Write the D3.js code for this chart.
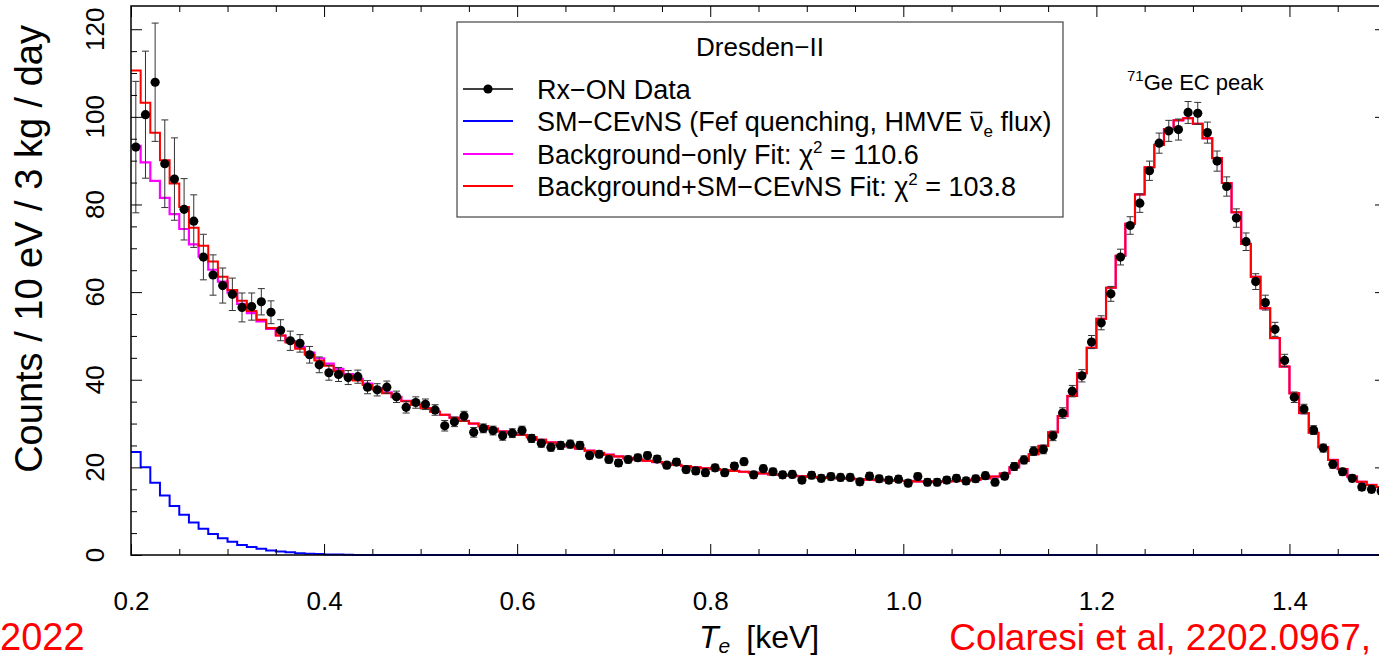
<!DOCTYPE html>
<html>
<head>
<meta charset="utf-8">
<script src="https://cdn.jsdelivr.net/npm/d3@7"></script>
<style>
body { margin: 0; background: #fff; }
svg { display: block; font-family: "Liberation Sans", Arial, Helvetica, sans-serif; }
</style>
</head>
<body>
<div id="graph"></div>
<script>
//histogram binning (10 eV bins from 0.2 keV)
var binStart = 0.2;
var binWidth = 0.01;

//Rx-ON data, counts / 10 eV / 3 kg / day
var dataCounts = [
    93.1, 100.5, 107.9, 89.3, 85.8, 78.9, 76.2, 68.0, 63.9, 61.5,
    59.5, 56.5, 56.7, 57.8, 55.4, 51.3, 48.9, 48.3, 45.7, 43.4,
    41.6, 41.2, 40.5, 40.7, 38.3, 37.7, 38.3, 36.1, 33.7, 34.8,
    34.4, 33.1, 29.5, 30.4, 31.7, 28.0, 28.9, 28.4, 27.2, 27.8,
    28.4, 26.6, 25.5, 24.6, 25.0, 25.3, 25.0, 22.7, 23.0, 21.8,
    21.0, 21.8, 22.2, 22.7, 21.9, 20.5, 21.2, 19.5, 19.2, 18.8,
    19.9, 18.8, 20.3, 21.3, 18.3, 19.7, 19.0, 18.3, 18.4, 17.1,
    18.2, 17.5, 17.9, 17.7, 17.7, 16.7, 18.0, 17.4, 17.1, 17.3,
    16.4, 17.9, 16.6, 16.6, 17.1, 17.5, 16.9, 17.4, 18.1, 16.6,
    18.0, 20.2, 21.7, 23.7, 24.1, 27.2, 32.4, 37.4, 40.9, 48.6,
    53.0, 59.6, 68.0, 75.2, 80.3, 87.7, 94.0, 96.8, 97.1, 101.0,
    100.8, 96.4, 89.9, 84.1, 76.9, 71.5, 62.4, 57.6, 51.5, 44.4,
    36.0, 33.3, 28.5, 24.4, 20.7, 19.0, 17.5, 15.5, 15.0, 14.6
];
var dataErrors = [
    15.0, 14.5, 13.5, 10.0, 9.4, 7.0, 6.0, 5.2, 4.6, 4.0,
    3.7, 3.3, 3.1, 3.0, 2.6, 2.4, 2.2, 2.0, 1.9, 1.8,
    1.7, 1.6, 1.6, 1.5, 1.5, 1.4, 1.4, 1.3, 1.3, 1.3,
    1.2, 1.2, 1.2, 1.1, 1.1, 1.1, 1.0, 1.0, 1.0, 1.0,
    1.0, 0.9, 0.9, 0.9, 0.9, 0.9, 0.9, 0.8, 0.8, 0.8,
    0.8, 0.8, 0.8, 0.8, 0.8, 0.8, 0.8, 0.8, 0.8, 0.8,
    0.8, 0.8, 0.8, 0.8, 0.8, 0.8, 0.8, 0.8, 0.8, 0.8,
    0.8, 0.8, 0.8, 0.8, 0.8, 0.8, 0.8, 0.8, 0.8, 0.8,
    0.8, 0.8, 0.8, 0.8, 0.8, 0.8, 0.8, 0.8, 0.8, 0.8,
    0.8, 0.9, 0.9, 1.0, 1.0, 1.1, 1.2, 1.3, 1.4, 1.5,
    1.6, 1.7, 1.8, 2.0, 2.1, 2.2, 2.3, 2.4, 2.4, 2.5,
    2.5, 2.4, 2.3, 2.2, 2.1, 2.0, 1.8, 1.7, 1.6, 1.4,
    1.2, 1.1, 1.0, 0.9, 0.9, 0.8, 0.8, 0.8, 0.8, 0.8
];

//Background+SM-CEvNS fit (red)
var fitBkgSM = [
    110.6, 103.2, 96.4, 90.1, 84.8, 79.4, 74.7, 70.6, 67.0, 63.5,
    60.5, 58.0, 55.7, 53.7, 51.8, 50.1, 48.5, 47.1, 45.7, 44.4,
    43.2, 42.0, 40.9, 39.8, 38.8, 37.8, 36.9, 36.0, 35.1, 34.3,
    33.5, 32.7, 32.0, 31.3, 30.6, 30.0, 29.4, 28.8, 28.2, 27.8,
    27.4, 26.9, 26.3, 25.7, 25.2, 24.8, 24.3, 23.8, 23.3, 22.9,
    22.5, 22.1, 21.8, 21.5, 21.2, 20.9, 20.6, 20.3, 20.0, 19.8,
    19.6, 19.4, 19.2, 19.0, 18.8, 18.6, 18.4, 18.3, 18.1, 18.0,
    17.8, 17.7, 17.6, 17.5, 17.4, 17.3, 17.2, 17.1, 17.0, 16.9,
    16.9, 16.8, 16.8, 16.8, 16.8, 16.9, 17.0, 17.2, 17.5, 17.9,
    18.6, 20.0, 21.5, 23.0, 24.9, 28.0, 31.7, 36.3, 41.5, 47.3,
    53.9, 61.0, 68.3, 75.6, 82.3, 88.5, 93.6, 97.2, 99.2, 99.7,
    98.4, 95.1, 90.6, 84.9, 78.2, 71.0, 63.5, 56.3, 49.5, 43.0,
    36.9, 32.4, 27.9, 24.6, 21.7, 19.6, 17.9, 16.7, 16.0, 15.5
];

//Background-only fit (magenta)
var fitBkgOnly = [
    93.4, 89.6, 85.4, 81.5, 77.8, 74.4, 70.9, 68.1, 65.1, 62.4,
    59.9, 57.3, 55.2, 53.3, 51.6, 50.1, 48.8, 47.5, 46.2, 44.9,
    43.7, 42.5, 41.3, 40.2, 39.1, 38.1, 37.1, 36.1, 35.2, 34.3,
    33.5, 32.7, 32.0, 31.3, 30.6, 30.0, 29.4, 28.8, 28.2, 27.8,
    27.4, 26.9, 26.3, 25.7, 25.2, 24.8, 24.3, 23.8, 23.3, 22.9,
    22.5, 22.1, 21.8, 21.5, 21.2, 20.9, 20.6, 20.3, 20.0, 19.8,
    19.6, 19.4, 19.2, 19.0, 18.8, 18.6, 18.4, 18.3, 18.1, 18.0,
    17.8, 17.7, 17.6, 17.5, 17.4, 17.3, 17.2, 17.1, 17.0, 16.9,
    16.9, 16.8, 16.8, 16.8, 16.8, 16.9, 17.0, 17.2, 17.5, 17.9,
    18.6, 20.0, 21.5, 23.0, 24.9, 28.0, 31.7, 36.3, 41.5, 47.3,
    53.9, 61.0, 68.3, 75.6, 82.3, 88.5, 93.6, 97.2, 99.2, 99.7,
    98.4, 95.1, 90.6, 84.9, 78.2, 71.0, 63.5, 56.3, 49.5, 43.0,
    36.9, 32.4, 27.9, 24.6, 21.7, 19.6, 17.9, 16.7, 16.0, 15.5
];

//SM-CEvNS prediction (blue)
var smCevns = [
    23.5, 20.0, 16.5, 13.6, 11.2, 9.2, 7.4, 6.0, 4.8, 3.8,
    3.0, 2.3, 1.8, 1.4, 1.0, 0.8, 0.6, 0.4, 0.3, 0.2,
    0.1, 0.1, 0.05, 0, 0, 0, 0, 0, 0, 0,
    0, 0, 0, 0, 0, 0, 0, 0, 0, 0,
    0, 0, 0, 0, 0, 0, 0, 0, 0, 0,
    0, 0, 0, 0, 0, 0, 0, 0, 0, 0,
    0, 0, 0, 0, 0, 0, 0, 0, 0, 0,
    0, 0, 0, 0, 0, 0, 0, 0, 0, 0,
    0, 0, 0, 0, 0, 0, 0, 0, 0, 0,
    0, 0, 0, 0, 0, 0, 0, 0, 0, 0,
    0, 0, 0, 0, 0, 0, 0, 0, 0, 0,
    0, 0, 0, 0, 0, 0, 0, 0, 0, 0,
    0, 0, 0, 0, 0, 0, 0, 0, 0, 0
];

//axis ticks
var xTicksMajor = [0.2, 0.4, 0.6, 0.8, 1.0, 1.2, 1.4];
var xTickLabels = ["0.2", "0.4", "0.6", "0.8", "1.0", "1.2", "1.4"];
var yTicksMajor = [0, 20, 40, 60, 80, 100, 120];
var yTickLabels = ["0", "20", "40", "60", "80", "100", "120"];

//measurements
var width = 1379;
var height = 658;
var plot = { left: 131, top: 6, right: 1386, bottom: 555 };

var x = d3.scaleLinear().domain([0.2, 1.5]).range([plot.left, plot.right]);
var y = d3.scaleLinear().domain([0, 125.3]).range([plot.bottom, plot.top]);

var svg = d3.select("#graph").append("svg")
    .attr("width", width)
    .attr("height", height);

// step histogram path from bin contents
function histPath (values) {
    var pts = values.map(function (v, i) { return [x(binStart + i * binWidth), y(v)]; });
    pts.push([x(binStart + values.length * binWidth), y(values[values.length - 1])]);
    return d3.line().curve(d3.curveStepAfter)(pts);
}

svg.append("path")
    .attr("d", histPath(smCevns))
    .attr("fill", "none")
    .attr("stroke", "#0000ff")
    .attr("stroke-width", 2);

svg.append("path")
    .attr("d", histPath(fitBkgOnly))
    .attr("fill", "none")
    .attr("stroke", "#ff00ff")
    .attr("stroke-width", 2.2);

svg.append("path")
    .attr("d", histPath(fitBkgSM))
    .attr("fill", "none")
    .attr("stroke", "#ff0000")
    .attr("stroke-width", 2);

// data points with error bars
var pts = svg.append("g").selectAll("g")
    .data(dataCounts)
    .enter().append("g")
    .attr("transform", function (d, i) { return "translate(" + x(binStart + (i + 0.5) * binWidth) + ",0)"; });

pts.append("line")
    .attr("y1", function (d, i) { return y(d - dataErrors[i]); })
    .attr("y2", function (d, i) { return y(d + dataErrors[i]); })
    .attr("stroke", "#333")
    .attr("stroke-width", 1);
pts.append("line")
    .attr("x1", -3.5).attr("x2", 3.5)
    .attr("y1", function (d, i) { return y(d + dataErrors[i]); })
    .attr("y2", function (d, i) { return y(d + dataErrors[i]); })
    .attr("stroke", "#333");
pts.append("line")
    .attr("x1", -3.5).attr("x2", 3.5)
    .attr("y1", function (d, i) { return y(d - dataErrors[i]); })
    .attr("y2", function (d, i) { return y(d - dataErrors[i]); })
    .attr("stroke", "#333");
pts.append("circle")
    .attr("cy", function (d) { return y(d); })
    .attr("r", 4.6)
    .attr("fill", "#000");

//axes, ROOT style with ticks pointing inside
var xMinor = d3.range(0.25, 1.5, 0.05).filter(function (v) { return Math.abs(Math.round(v * 5) - v * 5) > 0.01; });
var yMinor = d3.range(5, 125, 5).filter(function (v) { return v % 20 != 0; });

function styleAxis (g) {
    g.select(".domain").remove();
    g.selectAll("line").attr("stroke", "#000").attr("stroke-width", 1);
}

svg.append("g").attr("transform", "translate(0," + plot.bottom + ")")
    .call(d3.axisBottom(x).tickValues(xTicksMajor).tickSizeInner(-11).tickSizeOuter(0).tickPadding(37)
        .tickFormat(function (d, i) { return xTickLabels[i]; }))
    .call(styleAxis)
    .selectAll("text")
    .attr("font-size", 26)
    .attr("font-family", "Liberation Sans, Arial, sans-serif")
    .attr("fill", "#000");
svg.append("g").attr("transform", "translate(0," + plot.bottom + ")")
    .call(d3.axisBottom(x).tickValues(xMinor).tickSizeInner(-6).tickSizeOuter(0).tickFormat(""))
    .call(styleAxis);
svg.append("g").attr("transform", "translate(0," + plot.top + ")")
    .call(d3.axisTop(x).tickValues(xTicksMajor).tickSizeInner(-11).tickSizeOuter(0).tickFormat(""))
    .call(styleAxis);
svg.append("g").attr("transform", "translate(0," + plot.top + ")")
    .call(d3.axisTop(x).tickValues(xMinor).tickSizeInner(-6).tickSizeOuter(0).tickFormat(""))
    .call(styleAxis);
svg.append("g").attr("transform", "translate(" + plot.left + ",0)")
    .call(d3.axisLeft(y).tickValues(yTicksMajor).tickSizeInner(-11).tickSizeOuter(0).tickFormat(""))
    .call(styleAxis);
svg.append("g").attr("transform", "translate(" + plot.left + ",0)")
    .call(d3.axisLeft(y).tickValues(yMinor).tickSizeInner(-6).tickSizeOuter(0).tickFormat(""))
    .call(styleAxis);
svg.append("g").attr("transform", "translate(" + plot.right + ",0)")
    .call(d3.axisRight(y).tickValues(yTicksMajor).tickSizeInner(-11).tickSizeOuter(0).tickFormat(""))
    .call(styleAxis);
svg.append("g").attr("transform", "translate(" + plot.right + ",0)")
    .call(d3.axisRight(y).tickValues(yMinor).tickSizeInner(-6).tickSizeOuter(0).tickFormat(""))
    .call(styleAxis);

// rotated y tick labels
svg.append("g").selectAll("text")
    .data(yTicksMajor)
    .enter().append("text")
    .attr("transform", function (d) { return "translate(104," + y(d) + ") rotate(-90)"; })
    .attr("text-anchor", "middle")
    .attr("font-size", 26)
    .text(function (d, i) { return yTickLabels[i]; });

// frame
svg.append("rect")
    .attr("x", plot.left).attr("y", plot.top)
    .attr("width", plot.right - plot.left).attr("height", plot.bottom - plot.top)
    .attr("fill", "none")
    .attr("stroke", "#000")
    .attr("stroke-width", 1.5);

// axis titles
svg.append("text")
    .attr("transform", "translate(42,25) rotate(-90)")
    .attr("text-anchor", "end")
    .attr("font-size", 38)
    .text("Counts / 10 eV / 3 kg / day");

var xt = svg.append("text")
    .attr("x", 699).attr("y", 648)
    .attr("font-size", 32);
xt.append("tspan").attr("font-style", "italic").text("T");
xt.append("tspan").attr("font-style", "italic").attr("font-size", 21).attr("dy", 5).text("e");
xt.append("tspan").attr("dy", -5).attr("dx", 16).text("[keV]");

// red annotations
svg.append("text")
    .attr("x", 0).attr("y", 650)
    .attr("font-size", 38)
    .attr("fill", "#ff0000")
    .text("2022");
svg.append("text")
    .attr("x", 1371).attr("y", 650)
    .attr("text-anchor", "end")
    .attr("font-size", 37)
    .attr("fill", "#ff0000")
    .text("Colaresi et al, 2202.0967,");

// peak label
var pk = svg.append("text")
    .attr("x", 1127).attr("y", 90)
    .attr("font-size", 22);
pk.append("tspan").attr("font-size", 15).attr("dy", -9).text("71");
pk.append("tspan").attr("dy", 9).text("Ge EC peak");

//legend
var legend = svg.append("g");
legend.append("rect")
    .attr("x", 457).attr("y", 22)
    .attr("width", 606).attr("height", 195)
    .attr("fill", "#fff")
    .attr("stroke", "#444")
    .attr("stroke-width", 1.2);
legend.append("text")
    .attr("x", 760).attr("y", 56)
    .attr("text-anchor", "middle")
    .attr("font-size", 26)
    .text("Dresden\u2212II");

var rowY = [89, 121, 154, 186];
var rowColor = ["#000", "#0000ff", "#ff00ff", "#ff0000"];
rowY.forEach(function (ry, i) {
    legend.append("line")
        .attr("x1", 463).attr("x2", 513)
        .attr("y1", ry).attr("y2", ry)
        .attr("stroke", rowColor[i])
        .attr("stroke-width", i == 0 ? 1.5 : 2);
});
legend.append("circle").attr("cx", 488).attr("cy", rowY[0]).attr("r", 4.6).attr("fill", "#000");

var legendFont = 27;
var t0 = legend.append("text").attr("x", 537).attr("y", rowY[0] + 9.5).attr("font-size", legendFont);
t0.text("Rx\u2212ON Data");

var smText = "SM\u2212CEvNS (Fef quenching, HMVE \u03bd";
var t1 = legend.append("text").attr("x", 537).attr("y", rowY[1] + 9.5).attr("font-size", legendFont);
t1.append("tspan").text(smText);
t1.append("tspan").attr("font-size", 17).attr("dy", 6).text("e");
t1.append("tspan").attr("dy", -6).text(" flux)");
// bar over the nu
var nuBox = t1.node().getExtentOfChar(smText.length - 1);
legend.append("line")
    .attr("x1", nuBox.x + 1).attr("x2", nuBox.x + nuBox.width - 1)
    .attr("y1", rowY[1] + 9.5 - 18).attr("y2", rowY[1] + 9.5 - 18)
    .attr("stroke", "#000")
    .attr("stroke-width", 1.5);

var t2 = legend.append("text").attr("x", 537).attr("y", rowY[2] + 9.5).attr("font-size", legendFont);
t2.append("tspan").text("Background\u2212only Fit: \u03c7");
t2.append("tspan").attr("font-size", 17).attr("dy", -11).text("2");
t2.append("tspan").attr("dy", 11).text(" = 110.6");

var t3 = legend.append("text").attr("x", 537).attr("y", rowY[3] + 9.5).attr("font-size", legendFont);
t3.append("tspan").text("Background+SM\u2212CEvNS Fit: \u03c7");
t3.append("tspan").attr("font-size", 17).attr("dy", -11).text("2");
t3.append("tspan").attr("dy", 11).text(" = 103.8");
</script>
</body>
</html>
